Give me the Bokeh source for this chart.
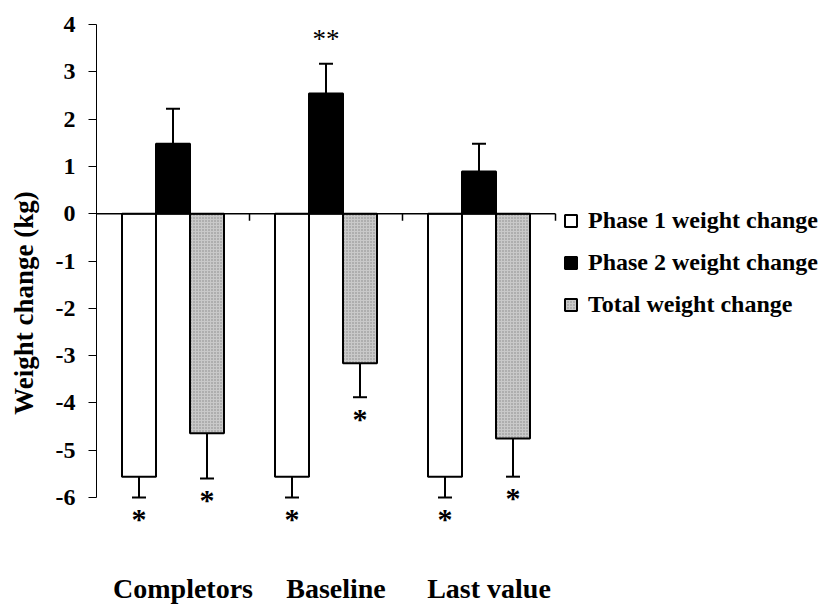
import numpy as np
from bokeh.plotting import figure
from bokeh.models import (Range1d, Legend, LegendItem, Whisker, TeeHead,
                          ColumnDataSource, FixedTicker)
from bokeh.core.properties import value
from bokeh.embed import file_html
from bokeh.resources import INLINE

# ---- data -------------------------------------------------------------
groups = ["Completors", "Baseline", "Last value"]
series = ["Phase 1 weight change", "Phase 2 weight change", "Total weight change"]

phase1 = [-5.56, -5.56, -5.56]
phase1_err = [0.44, 0.44, 0.44]
phase2 = [1.48, 2.54, 0.89]
phase2_err = [0.74, 0.63, 0.59]
total = [-4.64, -3.16, -4.75]
total_err = [0.96, 0.72, 0.81]

phase1_sig = ["*", "*", "*"]
phase2_sig = ["", "**", ""]
total_sig = ["*", "*", "*"]

y_ticks = [-6, -5, -4, -3, -2, -1, 0, 1, 2, 3, 4]

# ---- layout constants -------------------------------------------------
W, H = 834, 605
LEFT = 96            # frame starts where the y axis sits
GROUP_PX = 153       # pixel width of one group
PX_PER_KG = 47.3
ZERO_PX = 213.2      # screen row of y = 0
SERIF = "Liberation Serif"

x_end = (W - LEFT) / GROUP_PX
y_top = ZERO_PX / PX_PER_KG
y_bot = -(H - ZERO_PX) / PX_PER_KG

p = figure(width=W, height=H, x_range=Range1d(0, x_end), y_range=Range1d(y_bot, y_top),
           output_backend="svg", toolbar_location=None, x_axis_location=None,
           min_border_left=LEFT, min_border_right=0, min_border_top=0, min_border_bottom=0)
p.grid.visible = False
p.outline_line_color = None
p.background_fill_color = "white"

# y axis, only spanning the tick range
ax = p.yaxis[0]
ax.bounds = (min(y_ticks), max(y_ticks))
ax.ticker = FixedTicker(ticks=y_ticks)
ax.major_label_overrides = {t: str(t) for t in y_ticks}
ax.minor_tick_line_color = None
ax.major_tick_in = 0
ax.major_tick_out = 8
ax.major_tick_line_color = "black"
ax.axis_line_color = "black"
ax.axis_line_width = 1
ax.major_label_standoff = 13
ax.major_label_text_font = SERIF
ax.major_label_text_font_style = "bold"
ax.major_label_text_font_size = "24px"
ax.major_label_text_color = "black"
ax.axis_label = "Weight change (kg)"
ax.axis_label_text_font = SERIF
ax.axis_label_text_font_style = "bold"
ax.axis_label_text_font_size = "27px"
ax.axis_label_text_color = "black"
ax.axis_label_standoff = 14

# ---- bars -------------------------------------------------------------
n = len(groups)
xc = np.arange(n) + 0.5
bar_w = 34 / GROUP_PX
offsets = [-bar_w, 0.0, bar_w]
vals = [phase1, phase2, total]
errs = [phase1_err, phase2_err, total_err]
sigs = [phase1_sig, phase2_sig, total_sig]
fills = [dict(fill_color="white"),
         dict(fill_color="black"),
         dict(fill_color="#c9c9c9", hatch_pattern="dot", hatch_scale=3,
              hatch_color="#858585", hatch_weight=1)]

renderers = []
for v, e, s, off, f in zip(vals, errs, sigs, offsets, fills):
    v = np.array(v)
    e = np.array(e)
    pos = v >= 0
    end = np.where(pos, v + e, v - e)
    src = ColumnDataSource(dict(x=xc + off, top=v, end=end, sig=s,
                                sig_off=np.where(pos, -25, 21),
                                sig_style=np.where(pos, "normal", "bold"),
                                sig_size=np.where(pos, "27px", "30px")))
    r = p.vbar(x="x", top="top", bottom=0, width=bar_w, source=src,
               line_color="black", line_width=2, **f)
    renderers.append(r)

    # one-sided error bars pointing away from zero
    up = ColumnDataSource(dict(x=(xc + off)[pos], lower=v[pos], upper=end[pos]))
    dn = ColumnDataSource(dict(x=(xc + off)[~pos], lower=end[~pos], upper=v[~pos]))
    if pos.any():
        p.add_layout(Whisker(source=up, base="x", lower="lower", upper="upper",
                             upper_head=TeeHead(size=14, line_width=2, line_color="black"),
                             lower_head=None, line_width=2, line_color="black",
                             level="glyph"))
    if (~pos).any():
        p.add_layout(Whisker(source=dn, base="x", lower="lower", upper="upper",
                             lower_head=TeeHead(size=14, line_width=2, line_color="black"),
                             upper_head=None, line_width=2, line_color="black",
                             level="glyph"))

    # significance markers beyond the error bar ends
    p.text(x="x", y="end", text="sig", y_offset="sig_off", source=src,
           text_align="center", text_baseline="middle",
           text_font=value(SERIF), text_font_style="sig_style",
           text_font_size="sig_size", text_color="black")

# zero line with group dividers
p.segment(x0=[0], y0=[0], x1=[n], y1=[0], line_color="black", line_width=1.5)
tick_len = 7 / PX_PER_KG
p.segment(x0=np.arange(1, n + 1), y0=0, x1=np.arange(1, n + 1), y1=-tick_len,
          line_color="black", line_width=1.5)

# group names underneath
p.text(x=xc, y=-7.93, text=groups, x_offset=10, text_align="center",
       text_baseline="middle", text_font=value(SERIF), text_font_style="bold",
       text_font_size="28px", text_color="black")

legend = Legend(items=[LegendItem(label=s, renderers=[r]) for s, r in zip(series, renderers)],
                location=(467, 287), glyph_width=15, glyph_height=15, label_height=15,
                label_standoff=10, spacing=15, padding=0, margin=0,
                border_line_color=None, background_fill_alpha=0,
                label_text_font=SERIF, label_text_font_style="bold",
                label_text_font_size="24px", label_text_color="black")
p.add_layout(legend)

open("out.html", "w").write(file_html(p, INLINE))
